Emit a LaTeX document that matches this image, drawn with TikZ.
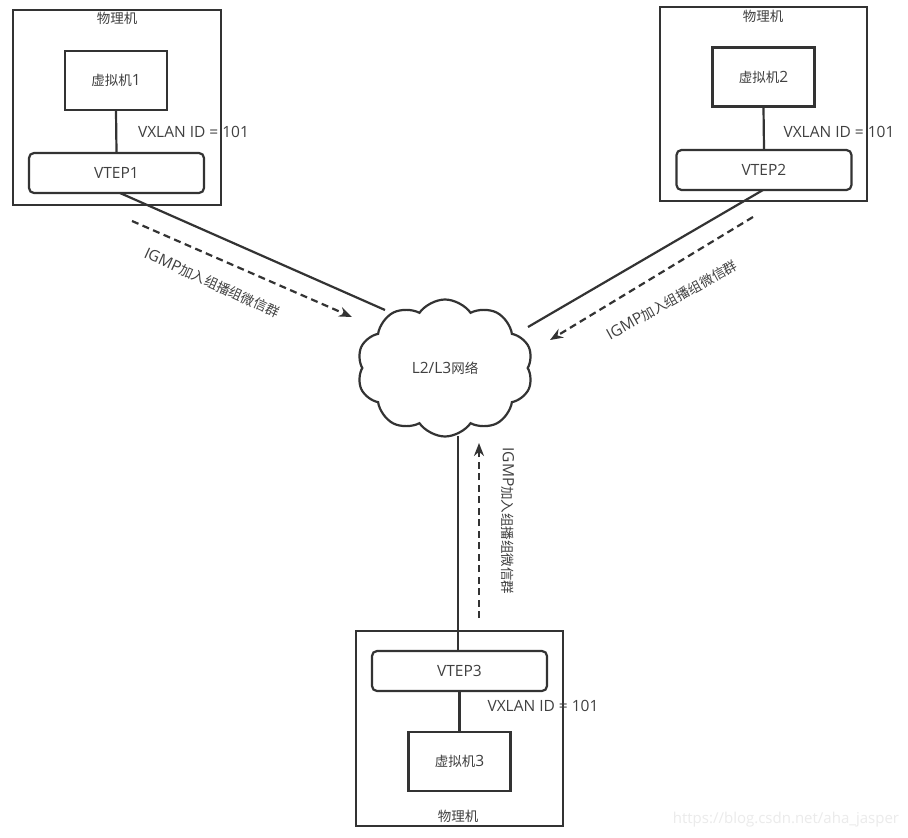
\documentclass[tikz,border=0pt]{standalone}
\usepackage{fontspec}
\setmainfont{Open Sans}
\newfontfamily\cjkfam{Noto Sans CJK SC}
\newcommand{\zh}[1]{{\cjkfam\fontsize{13.5}{16}\selectfont #1}}
\usetikzlibrary{shapes.symbols,arrows.meta}
\definecolor{ln}{HTML}{333333}
\definecolor{tx}{HTML}{404040}
\begin{document}
\begin{tikzpicture}[x=1pt,y=-1pt,
  every node/.style={font=\fontsize{15.5}{18}\selectfont, text=tx},
  pmbox/.style={draw=ln, line width=2.2pt, inner sep=0pt},
  vmbox/.style={draw=ln, line width=2.2pt, minimum width=102pt, minimum height=59pt, inner sep=0pt},
  vtepbox/.style={draw=ln, line width=2.2pt, rounded corners=5pt, minimum width=175pt, minimum height=40pt, inner sep=0pt},
  link/.style={draw=ln, line width=2.2pt},
  igmp/.style={draw=ln, line width=2.2pt, dash pattern=on 7pt off 4.5pt, -{Stealth[length=13pt,width=10pt]}},
  lbl/.style={inner sep=0pt}
]
\useasboundingbox (0,0) rectangle (908,838);
\fill[white] (0,0) rectangle (908,838);

% physical machines
\node[pmbox, minimum width=208pt, minimum height=195pt] (pm1) at (117,107.5) {};
\node[pmbox, minimum width=207pt, minimum height=194pt] (pm2) at (763.5,104) {};
\node[pmbox, minimum width=207pt, minimum height=195pt] (pm3) at (459.5,728.5) {};
\node[lbl] (pml1) at (117,18) {\zh{物理机}};
\node[lbl] (pml2) at (763,16) {\zh{物理机}};
\node[lbl] (pml3) at (458,816) {\zh{物理机}};

% virtual machines
\node[vmbox] (vm1) at (116,80.5) {\zh{虚拟机}1};
\node[vmbox] (vm2) at (763.5,77) {\zh{虚拟机}2};
\node[vmbox] (vm3) at (459.5,761.5) {\zh{虚拟机}3};

% VTEPs
\node[vtepbox] (vtep1) at (116.5,173) {VTEP1};
\node[vtepbox] (vtep2) at (764,170) {VTEP2};
\node[vtepbox] (vtep3) at (459.5,671) {VTEP3};

\draw[link] (vm1.south) -- (vtep1.north);
\draw[link] (vm2.south) -- (vtep2.north);
\draw[link] (vtep3.south) -- (vm3.north);

\node[lbl] (vx1) at (193.5,132) {VXLAN ID = 101};
\node[lbl] (vx2) at (839,132) {VXLAN ID = 101};
\node[lbl] (vx3) at (543,706) {VXLAN ID = 101};

% cloud
\node[cloud, cloud puffs=10, cloud puff arc=110, aspect=1.3, draw=ln, line width=2.2pt,
      minimum width=176pt, minimum height=137pt, inner sep=0pt] (net) at (445,368) {L2/L3\zh{网络}};

% links to network
\coordinate (c1) at (385,310);
\coordinate (c2) at (528,327);
\coordinate (c3) at (458,436);
\coordinate (v1) at (120,193);
\coordinate (v2) at (763,190);
\draw[link] (v1) -- (c1);
\draw[link] (v2) -- (c2);
\draw[link] (c3) -- (c3 |- vtep3.north);

% IGMP arrows
\coordinate (a1s) at (132,221);
\coordinate (a1e) at (352,317);
\coordinate (a2s) at (753,217);
\coordinate (a2e) at (550,340);
\coordinate (a3s) at (479,618);
\coordinate (a3e) at (479,443);
\draw[igmp] (a1s) -- (a1e);
\draw[igmp] (a2s) -- (a2e);
\draw[igmp] (a3s) -- (a3e);

\node[lbl, rotate=-24.5] (g1) at (212,283) {IGMP\zh{加入组播组微信群}};
\node[lbl, rotate=29] (g2) at (672,300) {IGMP\zh{加入组播组微信群}};
\node[lbl, rotate=-90] (g3) at (508,521) {IGMP\zh{加入组播组微信群}};

% watermark
\node[lbl, text=black!8, font=\fontsize{15}{18}\selectfont] (wm) at (786,820) {https://blog.csdn.net/aha\_jasper};
\end{tikzpicture}
\end{document}
